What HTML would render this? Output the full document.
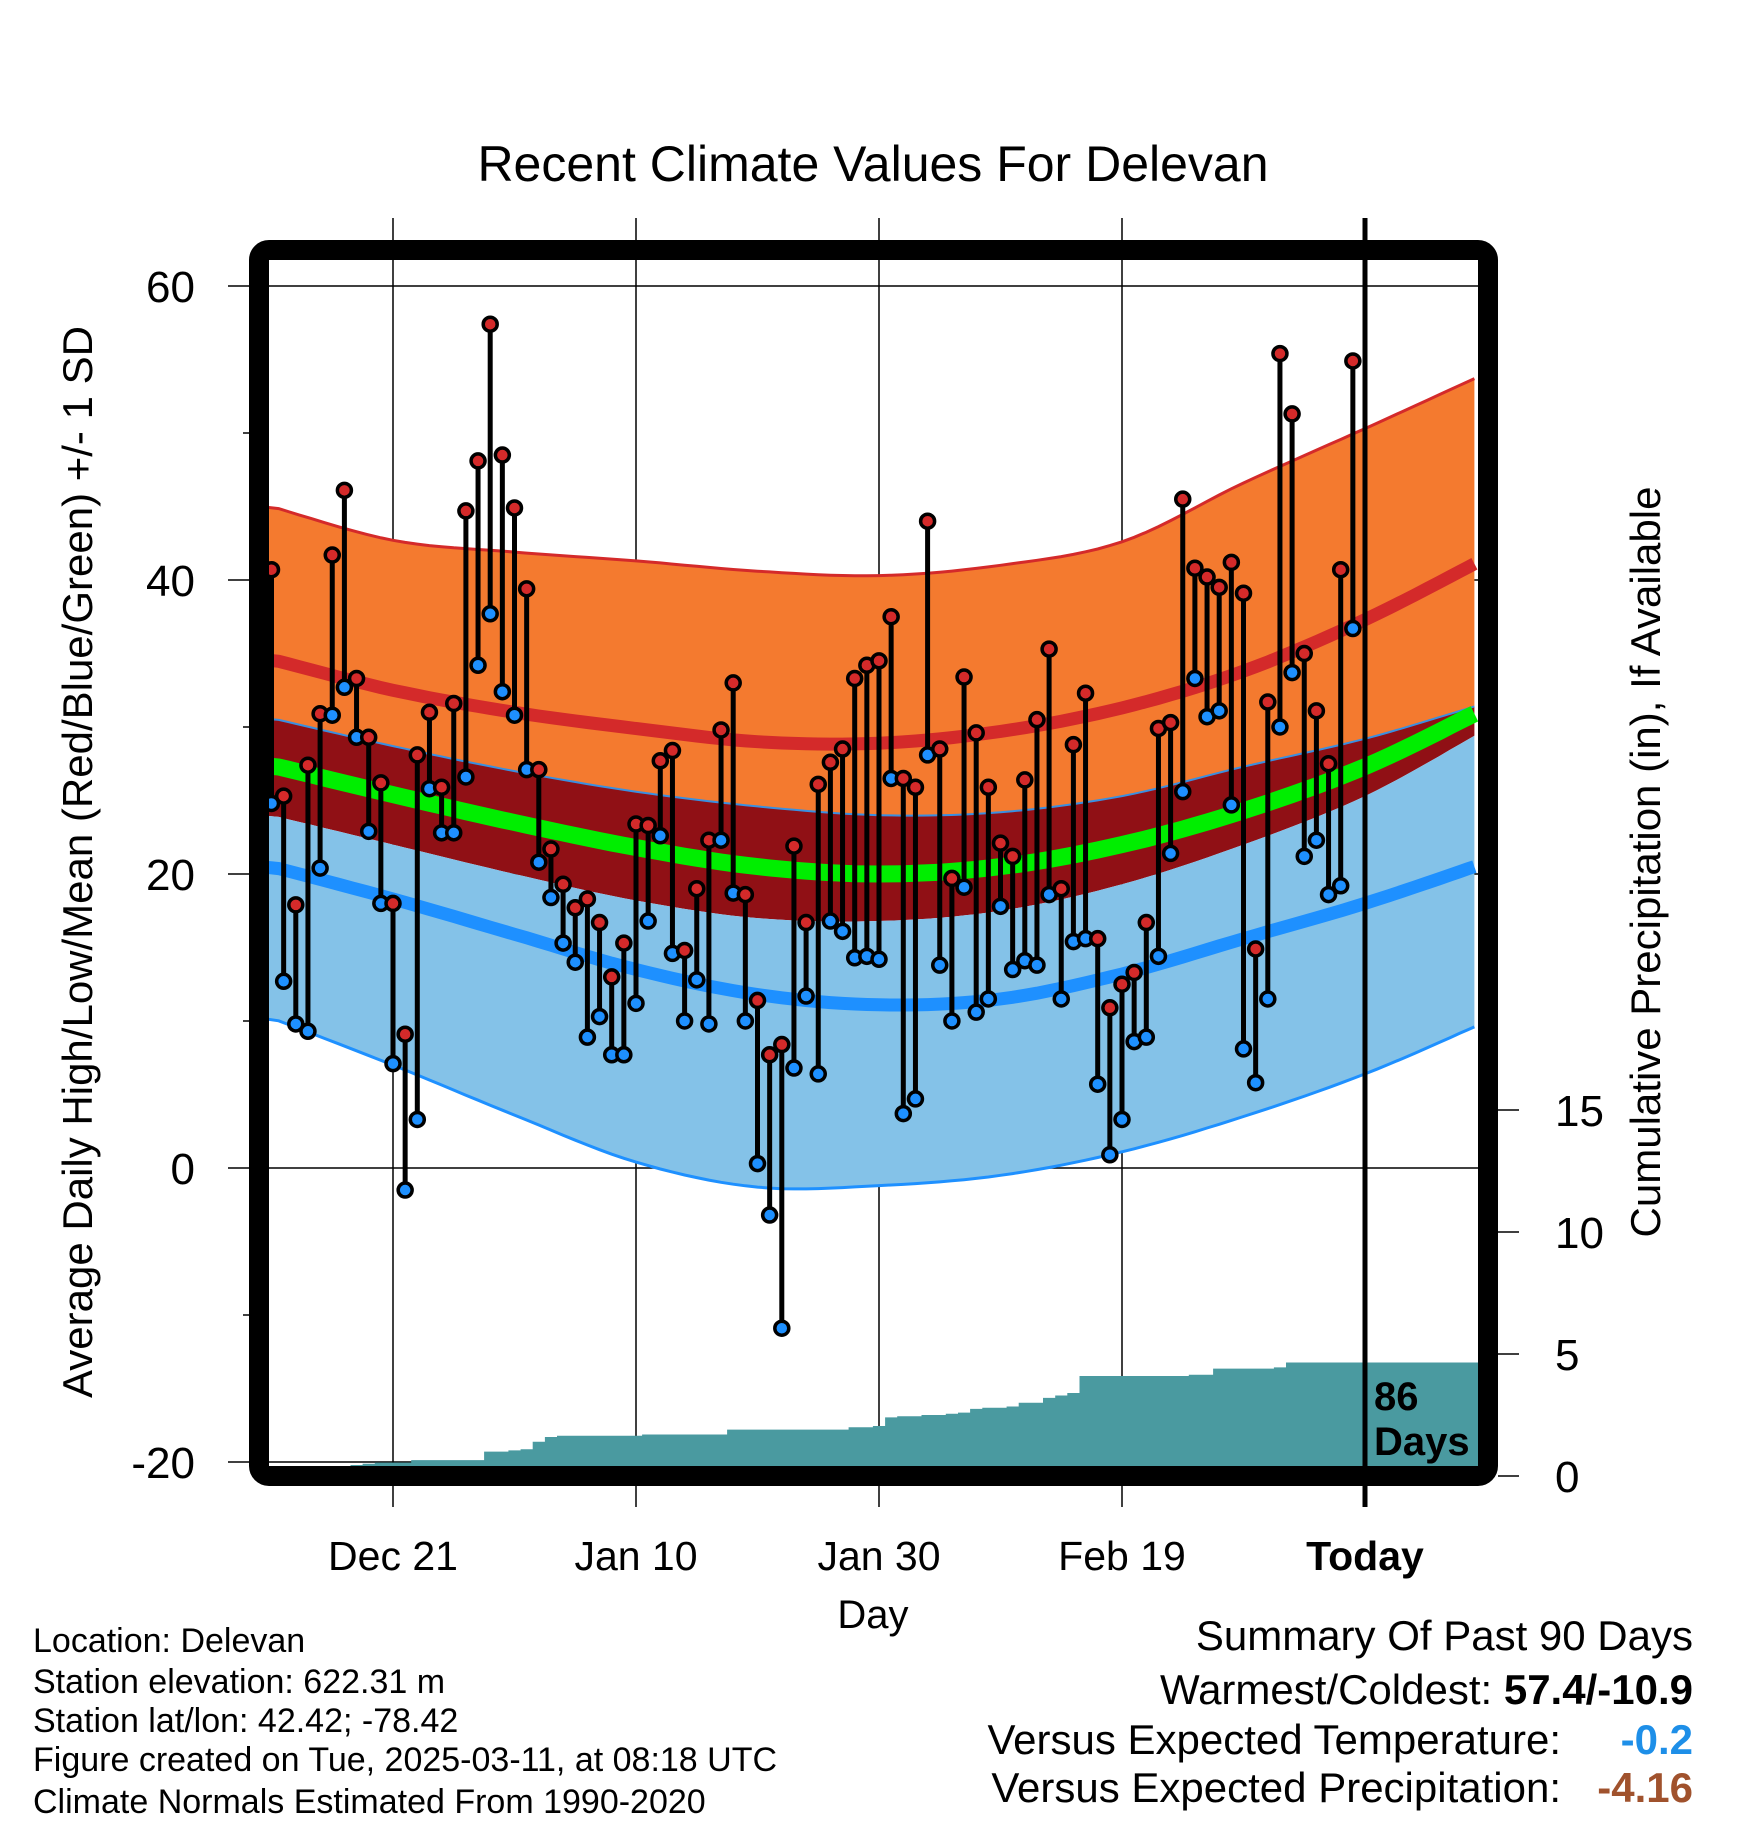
<!DOCTYPE html>
<html><head><meta charset="utf-8"><style>
html,body{margin:0;padding:0;background:#fff;}
svg{display:block;font-family:"Liberation Sans",Arial,sans-serif;}
</style></head><body>
<svg id="chart" width="1748" height="1828" viewBox="0 0 1748 1828" xmlns="http://www.w3.org/2000/svg">
<defs><clipPath id="plotclip"><rect x="269" y="260" width="1209" height="1206"/></clipPath></defs>
<text x="873" y="181" font-size="50" text-anchor="middle">Recent Climate Values For Delevan</text>
<g id="gridlayer"></g>
<g id="plot" clip-path="url(#plotclip)"></g>
<g id="axes"></g>
<rect x="259" y="250" width="1229" height="1226" rx="10" fill="none" stroke="#000" stroke-width="20"/>
<text transform="translate(92,862) rotate(-90)" font-size="42" text-anchor="middle">Average Daily High/Low/Mean (Red/Blue/Green) +/- 1 SD</text>
<text transform="translate(1660,862) rotate(-90)" font-size="42" text-anchor="middle">Cumulative Precipitation (in), If Available</text>
<text x="873" y="1628" font-size="40" text-anchor="middle">Day</text>
<text x="1374" y="1410" font-size="40" font-weight="bold">86</text>
<text x="1374" y="1455" font-size="40" font-weight="bold">Days</text>
<g font-size="34">
<text x="33" y="1652">Location: Delevan</text>
<text x="33" y="1693">Station elevation: 622.31 m</text>
<text x="33" y="1732">Station lat/lon: 42.42; -78.42</text>
<text x="33" y="1771">Figure created on Tue, 2025-03-11, at 08:18 UTC</text>
<text x="33" y="1813">Climate Normals Estimated From 1990-2020</text>
</g>
<g font-size="42">
<text x="1693" y="1650" text-anchor="end">Summary Of Past 90 Days</text>
<text x="1693" y="1704" text-anchor="end">Warmest/Coldest: <tspan font-weight="bold">57.4/-10.9</tspan></text>
<text x="1561" y="1754" text-anchor="end">Versus Expected Temperature:</text>
<text x="1693" y="1754" text-anchor="end" font-weight="bold" fill="#1e8fe8">-0.2</text>
<text x="1561" y="1802" text-anchor="end">Versus Expected Precipitation:</text>
<text x="1693" y="1802" text-anchor="end" font-weight="bold" fill="#a0522d">-4.16</text>
</g>
</svg>
<script>
const highs=[40.7,25.3,17.9,27.4,30.9,41.7,46.1,33.3,29.3,26.2,18.0,9.1,28.1,31.0,25.9,31.6,44.7,48.1,57.4,48.5,44.9,39.4,27.1,21.7,19.3,17.7,18.3,16.7,13.0,15.3,23.4,23.3,27.7,28.4,14.8,19.0,22.3,29.8,33.0,18.6,11.4,7.7,8.4,21.9,16.7,26.1,27.6,28.5,33.3,34.2,34.5,37.5,26.5,25.9,44.0,28.5,19.7,33.4,29.6,25.9,22.1,21.2,26.4,30.5,35.3,19.0,28.8,32.3,15.6,10.9,12.5,13.3,16.7,29.9,30.3,45.5,40.8,40.2,39.5,41.2,39.1,14.9,31.7,55.4,51.3,35.0,31.1,27.5,40.7,54.9];
const lows=[24.8,12.7,9.8,9.3,20.4,30.8,32.7,29.3,22.9,18.0,7.1,-1.5,3.3,25.8,22.8,22.8,26.6,34.2,37.7,32.4,30.8,27.1,20.8,18.4,15.3,14.0,8.9,10.3,7.7,7.7,11.2,16.8,22.6,14.6,10.0,12.8,9.8,22.3,18.7,10.0,0.3,-3.2,-10.9,6.8,11.7,6.4,16.8,16.1,14.3,14.4,14.2,26.5,3.7,4.7,28.1,13.8,10.0,19.1,10.6,11.5,17.8,13.5,14.1,13.8,18.6,11.5,15.4,15.6,5.7,0.9,3.3,8.6,8.9,14.4,21.4,25.6,33.3,30.7,31.1,24.7,8.1,5.8,11.5,30.0,33.7,21.2,22.3,18.6,19.2,36.7];
const precip=[0,0,0,0,0,0,0,0.45,0.5,0.55,0.55,0.55,0.65,0.65,0.65,0.65,0.65,0.65,1.0,1.0,1.05,1.1,1.4,1.6,1.65,1.65,1.65,1.65,1.65,1.65,1.65,1.7,1.7,1.7,1.7,1.7,1.7,1.7,1.9,1.9,1.9,1.9,1.9,1.9,1.9,1.9,1.9,1.9,2.0,2.0,2.05,2.4,2.45,2.45,2.5,2.5,2.55,2.6,2.75,2.8,2.8,2.85,3.0,3.0,3.2,3.3,3.4,4.1,4.1,4.1,4.1,4.1,4.1,4.1,4.1,4.1,4.15,4.15,4.4,4.4,4.4,4.4,4.4,4.45,4.65,4.65,4.65,4.65,4.65,4.65];
const normDays=[0,10,20,30,40,50,60,70,80,90,99];
const highPlusSD=[45.0,42.7,41.9,41.3,40.6,40.3,41.0,42.6,46.6,50.3,53.7];
const normHigh=[34.6,32.5,31.0,29.9,29.0,28.9,29.7,31.3,33.8,37.3,41.1];
const highMinusSD=[30.6,28.7,27.0,25.6,24.6,24.0,24.2,25.3,27.3,29.2,31.4];
const normMean=[27.4,25.4,23.5,21.8,20.5,20.0,20.5,22.0,24.3,27.3,30.9];
const lowPlusSD=[24.0,22.0,20.0,18.2,17.0,16.8,17.5,19.3,22.0,25.3,29.4];
const normLow=[20.5,18.3,15.9,13.5,11.8,11.1,11.5,13.2,15.6,18.0,20.5];
const lowMinusSD=[10.2,7.0,3.6,0.4,-1.3,-1.2,-0.5,1.1,3.5,6.4,9.6];
const yTicks=[60,40,20,0,-20];
const yMinor=[50,30,10,-10];
const pTicks=[0,5,10,15];
const xTickDays=[10,30,50,70,90];
const xTickLabels=["Dec 21","Jan 10","Jan 30","Feb 19","Today"];

const NS="http://www.w3.org/2000/svg";
const X=d=>271.5+12.15*d;
const Y=t=>286+(60-t)*14.7;
const P=p=>1476-p*24.4;
function mk(tag,attrs,parent){const e=document.createElementNS(NS,tag);for(const k in attrs)e.setAttribute(k,attrs[k]);parent.appendChild(e);return e;}
function smoothPts(vals){const pts=normDays.map((d,i)=>[X(d),Y(vals[i])]);const out=[];
 for(let i=0;i<pts.length-1;i++){const p0=pts[Math.max(0,i-1)],p1=pts[i],p2=pts[i+1],p3=pts[Math.min(pts.length-1,i+2)];
  for(let s=0;s<10;s++){const t=s/10,t2=t*t,t3=t2*t;
   out.push([0.5*((2*p1[0])+(-p0[0]+p2[0])*t+(2*p0[0]-5*p1[0]+4*p2[0]-p3[0])*t2+(-p0[0]+3*p1[0]-3*p2[0]+p3[0])*t3),
   0.5*((2*p1[1])+(-p0[1]+p2[1])*t+(2*p0[1]-5*p1[1]+4*p2[1]-p3[1])*t2+(-p0[1]+3*p1[1]-3*p2[1]+p3[1])*t3)]);}}
 out.push(pts[pts.length-1]);out[0]=[260,out[0][1]];return out;}
const ptStr=a=>a.map(p=>p[0].toFixed(1)+","+p[1].toFixed(1)).join(" ");
function band(a,b,fill,name){const pa=smoothPts(a),pb=smoothPts(b).reverse();
 const e=mk("polygon",{points:ptStr(pa.concat(pb)),fill:fill},plot);
 
 }
function line(a,col,w,name){const e=mk("polyline",{points:ptStr(smoothPts(a)),fill:"none",stroke:col,"stroke-width":w},plot);
 
 }

const plot=document.getElementById("plot"),grid=document.getElementById("gridlayer"),axes=document.getElementById("axes");
band(highPlusSD,highMinusSD,"#f47a2f","high-sd-band");
band(highMinusSD,lowPlusSD,"#901015","mid-band");
band(lowPlusSD,lowMinusSD,"#84c2e8","low-sd-band");
line(highPlusSD,"#d42a2a",3,"high-plus-sd-line");
line(normHigh,"#d42a2a",13,"normal-high-line");
line(highMinusSD,"#3a8fe0",2,"high-minus-sd-line");
line(normMean,"#00ee00",17,"normal-mean-line");
line(normLow,"#1e90ff",13,"normal-low-line");
line(lowMinusSD,"#1e90ff",3,"low-minus-sd-line");

let pp=[[260,P(0)]];
precip.forEach((v,i)=>{const x0=X(i)-6.075,x1=X(i)+6.075;pp.push([x0,P(v)],[x1,P(v)]);});
pp.push([1480,P(precip[precip.length-1])],[1480,P(0)]);
const pa=mk("polygon",{points:ptStr(pp),fill:"#4a9aa0"},plot);



yTicks.forEach(t=>{const l=mk("line",{x1:228,x2:1478,y1:Y(t),y2:Y(t),stroke:"#000","stroke-width":1.5},grid);
 
 
 const tx=mk("text",{x:195,y:Y(t)+16,"font-size":44,"text-anchor":"end"},axes);tx.textContent=t;
 
 });
yMinor.forEach(t=>{const l=mk("line",{x1:243,x2:250,y1:Y(t),y2:Y(t),stroke:"#000","stroke-width":1.5},axes);
 
 });
xTickDays.forEach((d,i)=>{const today=i===xTickDays.length-1;
 const l=mk("line",{x1:X(d),x2:X(d),y1:218,y2:1507,stroke:"#000","stroke-width":today?5:1.5},grid);
 
 
 const tx=mk("text",{x:X(d),y:1570,"font-size":41,"text-anchor":"middle","font-weight":today?"bold":"normal"},axes);tx.textContent=xTickLabels[i];
 
 });
pTicks.forEach(p=>{const l=mk("line",{x1:1498,x2:1519,y1:P(p),y2:P(p),stroke:"#000","stroke-width":1.5},axes);
 
 
 const tx=mk("text",{x:1555,y:P(p)+16,"font-size":44},axes);tx.textContent=p;
 
 });

const tl=mk("line",{x1:X(90),x2:X(90),y1:250,y2:1476,stroke:"#000","stroke-width":5},plot);



highs.forEach((h,i)=>{const x=X(i);
 const s=mk("line",{x1:x,x2:x,y1:Y(h),y2:Y(lows[i]),stroke:"#000","stroke-width":5},plot);
 
 
 const c1=mk("circle",{cx:x,cy:Y(h),r:7,fill:"#d42a2a",stroke:"#000","stroke-width":3.5},plot);
 
 
 const c2=mk("circle",{cx:x,cy:Y(lows[i]),r:7,fill:"#1e90ff",stroke:"#000","stroke-width":3.5},plot);
 
 });
</script>
</body></html>
